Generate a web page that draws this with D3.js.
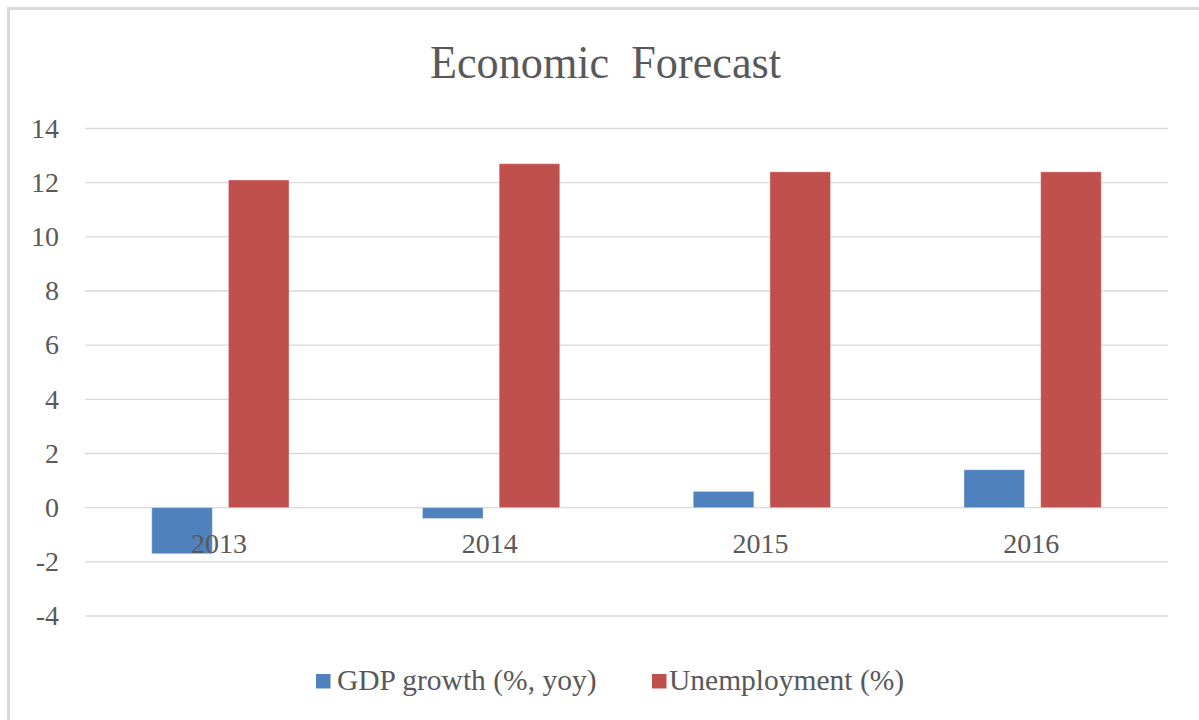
<!DOCTYPE html>
<meta charset="utf-8">
<style>
body { margin: 0; background-color: #FFFFFF; }
text { font-family: 'Liberation Serif', 'Times New Roman', serif; fill: #595959; }
.grid line { stroke: #d9d9d9; stroke-width: 1.3; }
</style>
<div class="chart"></div>
<script src="https://d3js.org/d3.v7.min.js"></script>
<script>
    var years = ["2013", "2014", "2015", "2016"];
    var seriesNames = ["GDP growth (%, yoy)", "Unemployment (%)"];
    var gdpGrowth = [-1.7, -0.4, 0.6, 1.4];
    var unemployment = [12.1, 12.7, 12.4, 12.4];
    var yTicks = [-4, -2, 0, 2, 4, 6, 8, 10, 12, 14];
    var colors = ["#4f81bd", "#c0504d"];

    var W = 1199, H = 720;
    var plot = { left: 85, right: 1168, top: 128.5, bottom: 616 };

    var svg = d3.select(".chart").append("svg")
        .attr("width", W)
        .attr("height", H);

    // chart border
    svg.append("rect")
        .attr("x", 8.5).attr("y", 8.5)
        .attr("width", W + 20).attr("height", H + 20)
        .attr("fill", "none")
        .attr("stroke", "#d9d9d9")
        .attr("stroke-width", 3);

    var y = d3.scaleLinear().domain([-4, 14]).range([plot.bottom, plot.top]);
    var x0 = d3.scaleBand().domain(years).range([plot.left, plot.right])
        .paddingInner(0.493).paddingOuter(0.2465);
    var x1 = d3.scaleBand().domain(seriesNames).range([0, x0.bandwidth()])
        .paddingInner(0.21);

    // title
    svg.append("text")
        .attr("x", 605.5)
        .attr("y", 78)
        .attr("text-anchor", "middle")
        .style("font-size", "46px")
        .style("white-space", "pre")
        .attr("textLength", 351)
        .attr("lengthAdjust", "spacingAndGlyphs")
        .text("Economic  Forecast");

    // gridlines
    svg.append("g")
        .attr("class", "grid")
        .selectAll("line")
        .data(yTicks)
        .enter()
        .append("line")
        .attr("x1", plot.left)
        .attr("x2", plot.right)
        .attr("y1", function (d) { return y(d); })
        .attr("y2", function (d) { return y(d); });

    // y tick labels
    svg.append("g")
        .selectAll("text")
        .data(yTicks)
        .enter()
        .append("text")
        .attr("x", 59)
        .attr("y", function (d) { return y(d); })
        .attr("dy", "0.33em")
        .attr("text-anchor", "end")
        .style("font-size", "28px")
        .text(function (d) { return d; });

    var data = years.map(function (yr, i) {
        return { year: yr, values: [
            { name: seriesNames[0], value: gdpGrowth[i] },
            { name: seriesNames[1], value: unemployment[i] }
        ] };
    });

    var groups = svg.selectAll(".group")
        .data(data)
        .enter()
        .append("g")
        .attr("class", "group")
        .attr("transform", function (d) { return "translate(" + x0(d.year) + ",0)"; });

    groups.selectAll("rect")
        .data(function (d) { return d.values; })
        .enter()
        .append("rect")
        .attr("x", function (d) { return x1(d.name); })
        .attr("width", x1.bandwidth())
        .attr("y", function (d) { return y(Math.max(0, d.value)); })
        .attr("height", function (d) { return Math.abs(y(d.value) - y(0)); })
        .attr("fill", function (d, i) { return colors[i]; })
        .attr("stroke", "#ffffff")
        .attr("stroke-opacity", 0.35)
        .attr("stroke-width", 1);

    // category labels
    svg.append("g")
        .selectAll("text")
        .data(years)
        .enter()
        .append("text")
        .attr("x", function (d) { return x0(d) + x0.bandwidth() / 2 - 1.5; })
        .attr("y", y(0) + 45)
        .attr("text-anchor", "middle")
        .style("font-size", "28px")
        .text(function (d) { return d; });

    // legend
    var legendItems = [
        { name: seriesNames[0], sx: 316, tx: 337 },
        { name: seriesNames[1], sx: 652, tx: 669 }
    ];
    var legend = svg.append("g");
    legend.selectAll("rect")
        .data(legendItems)
        .enter()
        .append("rect")
        .attr("x", function (d) { return d.sx; })
        .attr("y", 674)
        .attr("width", 14.5)
        .attr("height", 14.5)
        .attr("fill", function (d, i) { return colors[i]; });
    legend.selectAll("text")
        .data(legendItems)
        .enter()
        .append("text")
        .attr("x", function (d) { return d.tx; })
        .attr("y", 690)
        .style("font-size", "29.5px")
        .text(function (d) { return d.name; });
</script>
